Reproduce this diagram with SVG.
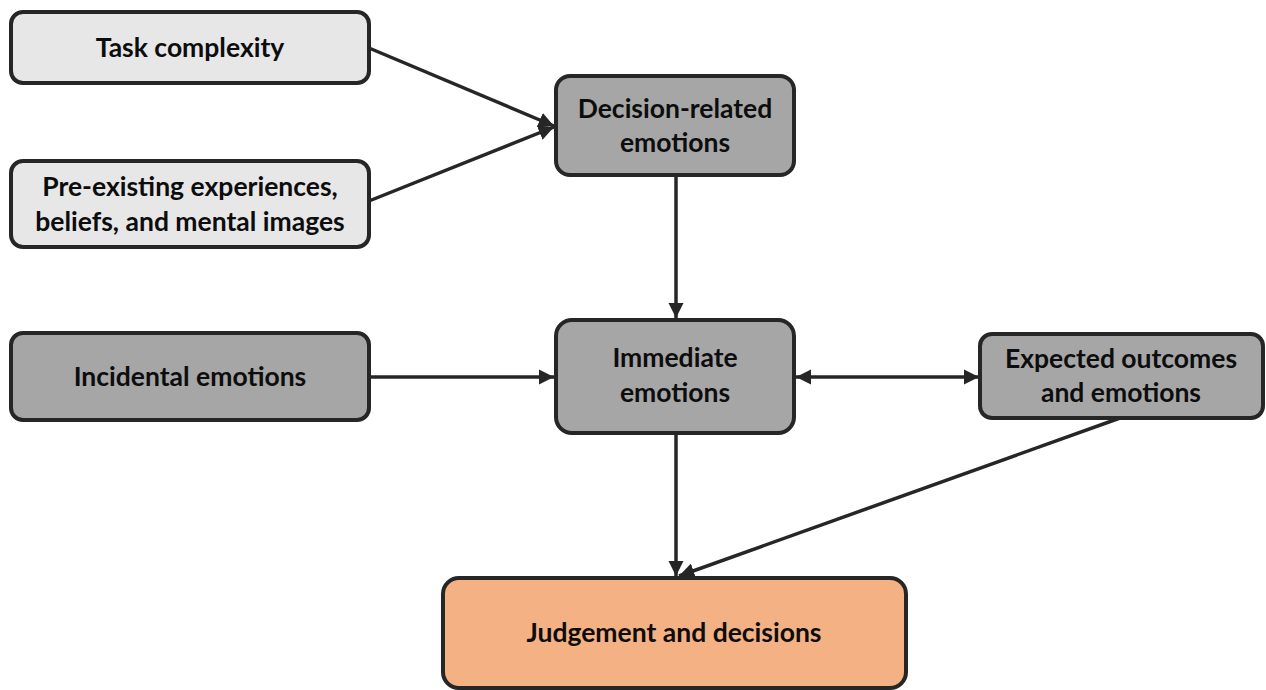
<svg xmlns="http://www.w3.org/2000/svg" width="1266" height="690" viewBox="0 0 1266 690">
<style>
.box{stroke:#262626;stroke-width:4}
.light{fill:#e7e7e7}
.gray{fill:#a6a6a6}
.orange{fill:#f4b183}
.t{font-family:Lato,"Open Sans","Liberation Sans",sans-serif;font-weight:bold;font-size:26.5px;fill:#0d0d0d;text-anchor:middle}
.c{stroke:#262626;stroke-width:3.5;fill:none}
</style>
<defs>
<marker id="ah" viewBox="0 0 10 10" refX="10" refY="5" markerWidth="4.4" markerHeight="4.4" orient="auto" markerUnits="strokeWidth">
<path d="M0,0 L10,5 L0,10 z" fill="#262626"/>
</marker>
<marker id="as" viewBox="0 0 10 10" refX="0" refY="5" markerWidth="4.4" markerHeight="4.4" orient="auto" markerUnits="strokeWidth">
<path d="M10,0 L0,5 L10,10 z" fill="#262626"/>
</marker>
</defs>
<rect width="1266" height="690" fill="#ffffff"/>
<g id="connectors">
<line class="c" x1="369" y1="48" x2="554" y2="126" marker-end="url(#ah)"/>
<line class="c" x1="369" y1="201" x2="554" y2="127" marker-end="url(#ah)"/>
<line class="c" x1="676" y1="175" x2="676" y2="318" marker-end="url(#ah)"/>
<line class="c" x1="369" y1="377" x2="554" y2="377" marker-end="url(#ah)"/>
<line class="c" x1="796" y1="377" x2="979" y2="377" marker-start="url(#as)" marker-end="url(#ah)"/>
<line class="c" x1="676" y1="433" x2="676" y2="576" marker-end="url(#ah)"/>
<line class="c" x1="1120" y1="418" x2="679" y2="576" marker-end="url(#ah)"/>
</g>
<g id="task">
<rect class="box light" x="11" y="12" width="358" height="71" rx="12"/>
<text class="t" x="190" y="57">Task complexity</text>
</g>
<g id="preexisting">
<rect class="box light" x="11" y="161" width="358" height="86" rx="12"/>
<text class="t" x="190" y="196">Pre-existing experiences,</text>
<text class="t" x="190" y="231">beliefs, and mental images</text>
</g>
<g id="decision">
<rect class="box gray" x="556" y="76" width="238" height="99" rx="14"/>
<text class="t" x="675" y="118">Decision-related</text>
<text class="t" x="675" y="152">emotions</text>
</g>
<g id="incidental">
<rect class="box gray" x="11" y="333" width="358" height="87" rx="12"/>
<text class="t" x="190" y="386">Incidental emotions</text>
</g>
<g id="immediate">
<rect class="box gray" x="556" y="320" width="238" height="113" rx="16"/>
<text class="t" x="675" y="367">Immediate</text>
<text class="t" x="675" y="402">emotions</text>
</g>
<g id="expected">
<rect class="box gray" x="980" y="334" width="283" height="84" rx="12"/>
<text class="t" x="1121" y="368">Expected outcomes</text>
<text class="t" x="1121" y="402">and emotions</text>
</g>
<g id="judgement">
<rect class="box orange" x="443" y="578" width="463" height="110" rx="16"/>
<text class="t" x="674" y="642">Judgement and decisions</text>
</g>
</svg>
